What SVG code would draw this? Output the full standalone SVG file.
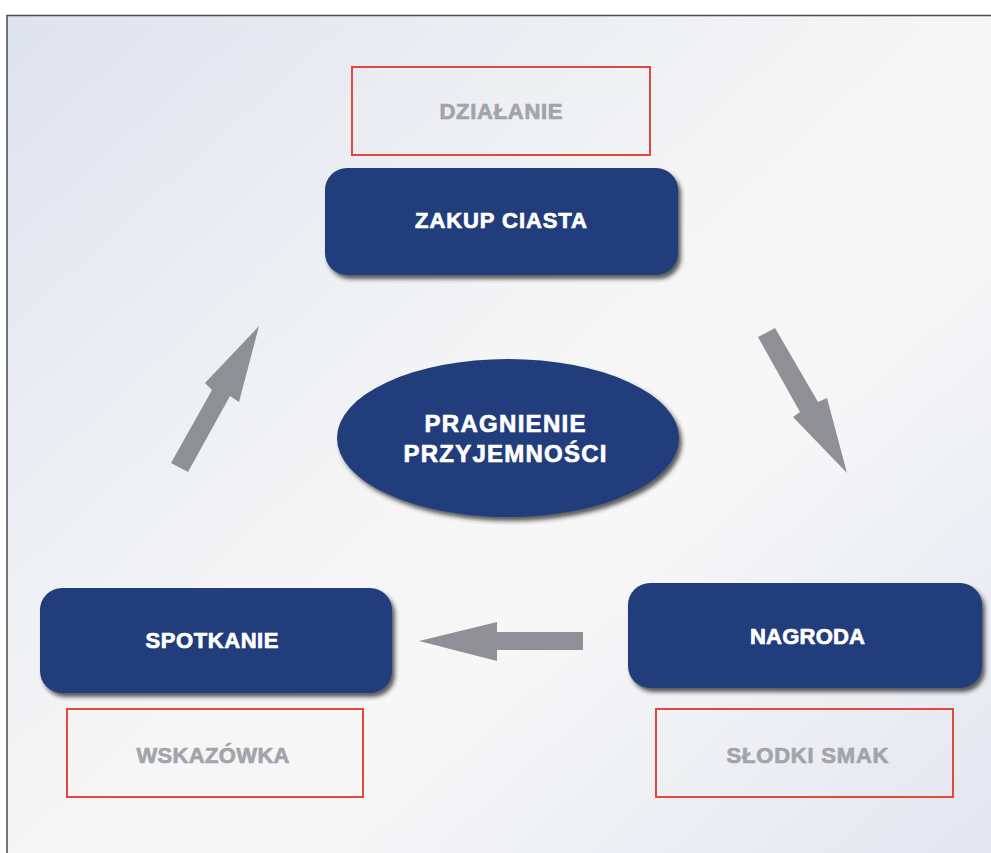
<svg xmlns="http://www.w3.org/2000/svg" width="991" height="853" viewBox="0 0 991 853">
<defs>
<linearGradient id="bg" x1="0" y1="0" x2="1" y2="1">
<stop offset="0" stop-color="#dfe3ef"/>
<stop offset="0.45" stop-color="#f5f5f5"/>
<stop offset="0.6" stop-color="#f7f7f7"/>
<stop offset="1" stop-color="#e1e4f0"/>
</linearGradient>
<filter id="sh" x="-10%" y="-10%" width="125%" height="135%">
<feDropShadow dx="3" dy="4" stdDeviation="2" flood-color="#2a2a2a" flood-opacity="0.75"/>
</filter>
<style>
.node{fill:#203c7b;filter:url(#sh)}
.wt{fill:#ffffff;stroke:#ffffff;stroke-width:0.7;font-family:"Liberation Sans",Arial,sans-serif;font-weight:bold;text-anchor:middle}
.lbl{fill:none;stroke:#e14a3b;stroke-width:2}
.gt{fill:#a1a4a9;stroke:#a1a4a9;stroke-width:0.7;font-family:"Liberation Sans",Arial,sans-serif;font-weight:bold;text-anchor:middle;font-size:22px}
.arr{fill:#8e9095}
</style>
</defs>
<rect x="0" y="0" width="991" height="853" fill="#ffffff"/>
<rect x="7" y="15.5" width="1000" height="900" fill="url(#bg)" stroke="#4a4a4a" stroke-width="1.5"/>

<g id="dzialanie">
<rect class="lbl" x="352" y="67" width="298" height="88"/>
<text class="gt" x="501" y="119" textLength="123" lengthAdjust="spacing">DZIAŁANIE</text>
</g>
<g id="zakup">
<rect class="node" x="325" y="168" width="353" height="107" rx="22"/>
<text class="wt" x="501" y="228" font-size="22" textLength="172" lengthAdjust="spacing">ZAKUP CIASTA</text>
</g>
<g id="pragnienie">
<ellipse class="node" cx="508" cy="438" rx="171" ry="79"/>
<text class="wt" x="505" y="432" font-size="24" textLength="161" lengthAdjust="spacing">PRAGNIENIE</text>
<text class="wt" x="505" y="462" font-size="24" textLength="203" lengthAdjust="spacing">PRZYJEMNOŚCI</text>
</g>
<g id="spotkanie">
<rect class="node" x="40" y="588" width="352" height="105" rx="22"/>
<text class="wt" x="212" y="648" font-size="22" textLength="133" lengthAdjust="spacing">SPOTKANIE</text>
</g>
<g id="wskazowka">
<rect class="lbl" x="67" y="709" width="296" height="88"/>
<text class="gt" x="213" y="763" textLength="153" lengthAdjust="spacing">WSKAZÓWKA</text>
</g>
<g id="nagroda">
<rect class="node" x="628" y="583" width="354" height="105" rx="22"/>
<text class="wt" x="807.5" y="644" font-size="22" textLength="115" lengthAdjust="spacing">NAGRODA</text>
</g>
<g id="slodki">
<rect class="lbl" x="656" y="709" width="297" height="88"/>
<text class="gt" x="807.5" y="763" textLength="162" lengthAdjust="spacing">SŁODKI SMAK</text>
</g>

<g id="connectors">
<polygon class="arr" points="171,463 212,390 205,383 259,326 239,402 230,396 188,472"/>
<polygon class="arr" points="758,337 775,328 818,402 827,398 847,473 793,417 800,412"/>
<polygon class="arr" points="419,641 497,622 497,632 583,632 583,650 497,650 497,661"/>
</g>
</svg>
